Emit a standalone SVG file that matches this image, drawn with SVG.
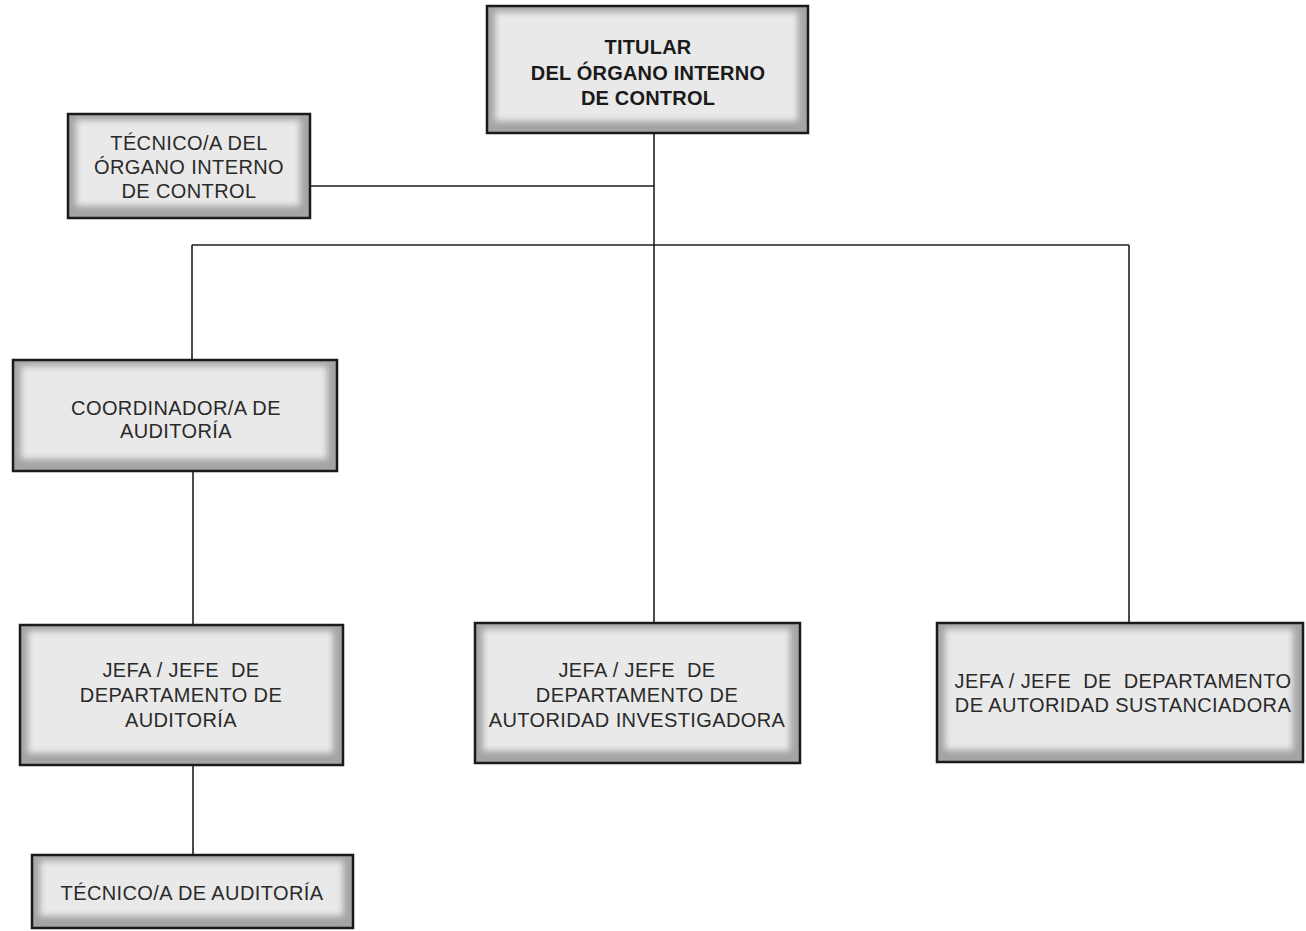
<svg xmlns="http://www.w3.org/2000/svg" width="1306" height="931" viewBox="0 0 1306 931">
<defs>
<filter id="soft" x="-5%" y="-10%" width="110%" height="120%">
<feGaussianBlur stdDeviation="3"/>
</filter>
<style>
.base{fill:#a4a4a4}
.face{fill:#e9e9e9;filter:url(#soft)}
.frame{fill:none;stroke:#1a1a1a;stroke-width:2.5}
.t{font-family:"Liberation Sans",Arial,sans-serif;font-size:20px;letter-spacing:0.4px;fill:#2a2a2a;text-anchor:middle}
.b{font-weight:bold;fill:#1a1a1a;letter-spacing:0.2px}
.c{stroke:#1e1e1e;stroke-width:1.6;fill:none}
</style>
</defs>
<rect width="1306" height="931" fill="#ffffff"/>
<g id="connectors">
<line class="c" x1="654" y1="133" x2="654" y2="623"/>
<line class="c" x1="310" y1="186" x2="654" y2="186"/>
<line class="c" x1="192" y1="245" x2="1129" y2="245"/>
<line class="c" x1="192" y1="245" x2="192" y2="360"/>
<line class="c" x1="1129" y1="245" x2="1129" y2="623"/>
<line class="c" x1="193" y1="471" x2="193" y2="625"/>
<line class="c" x1="193" y1="765" x2="193" y2="855"/>
</g>
<g id="titular">
<rect class="base" x="487" y="6" width="321" height="127"/>
<rect class="face" x="495" y="12" width="303" height="109"/>
<rect class="frame" x="487" y="6" width="321" height="127"/>
<text class="t b" x="648" y="54">TITULAR</text>
<text class="t b" x="648" y="80">DEL ÓRGANO INTERNO</text>
<text class="t b" x="648" y="105">DE CONTROL</text>
</g>
<g id="tecnico-oic">
<rect class="base" x="68" y="114" width="242" height="104"/>
<rect class="face" x="76" y="120" width="224" height="86"/>
<rect class="frame" x="68" y="114" width="242" height="104"/>
<text class="t" x="189" y="150">TÉCNICO/A DEL</text>
<text class="t" x="189" y="174">ÓRGANO INTERNO</text>
<text class="t" x="189" y="198">DE CONTROL</text>
</g>
<g id="coordinador">
<rect class="base" x="13" y="360" width="324" height="111"/>
<rect class="face" x="21" y="366" width="306" height="93"/>
<rect class="frame" x="13" y="360" width="324" height="111"/>
<text class="t" x="176" y="415">COORDINADOR/A DE</text>
<text class="t" x="176" y="438">AUDITORÍA</text>
</g>
<g id="jefe-auditoria">
<rect class="base" x="20" y="625" width="323" height="140"/>
<rect class="face" x="28" y="631" width="305" height="122"/>
<rect class="frame" x="20" y="625" width="323" height="140"/>
<text class="t" x="181" y="677" xml:space="preserve">JEFA / JEFE  DE</text>
<text class="t" x="181" y="702">DEPARTAMENTO DE</text>
<text class="t" x="181" y="727">AUDITORÍA</text>
</g>
<g id="jefe-investigadora">
<rect class="base" x="475" y="623" width="325" height="140"/>
<rect class="face" x="483" y="629" width="307" height="122"/>
<rect class="frame" x="475" y="623" width="325" height="140"/>
<text class="t" x="637" y="677" xml:space="preserve">JEFA / JEFE  DE</text>
<text class="t" x="637" y="702">DEPARTAMENTO DE</text>
<text class="t" x="637" y="727">AUTORIDAD INVESTIGADORA</text>
</g>
<g id="jefe-sustanciadora">
<rect class="base" x="937" y="623" width="366" height="139"/>
<rect class="face" x="945" y="629" width="348" height="121"/>
<rect class="frame" x="937" y="623" width="366" height="139"/>
<text class="t" x="1123" y="688" xml:space="preserve">JEFA / JEFE  DE  DEPARTAMENTO</text>
<text class="t" x="1123" y="712">DE AUTORIDAD SUSTANCIADORA</text>
</g>
<g id="tecnico-auditoria">
<rect class="base" x="32" y="855" width="321" height="73"/>
<rect class="face" x="40" y="861" width="303" height="55"/>
<rect class="frame" x="32" y="855" width="321" height="73"/>
<text class="t" x="192" y="900">TÉCNICO/A DE AUDITORÍA</text>
</g>
</svg>
